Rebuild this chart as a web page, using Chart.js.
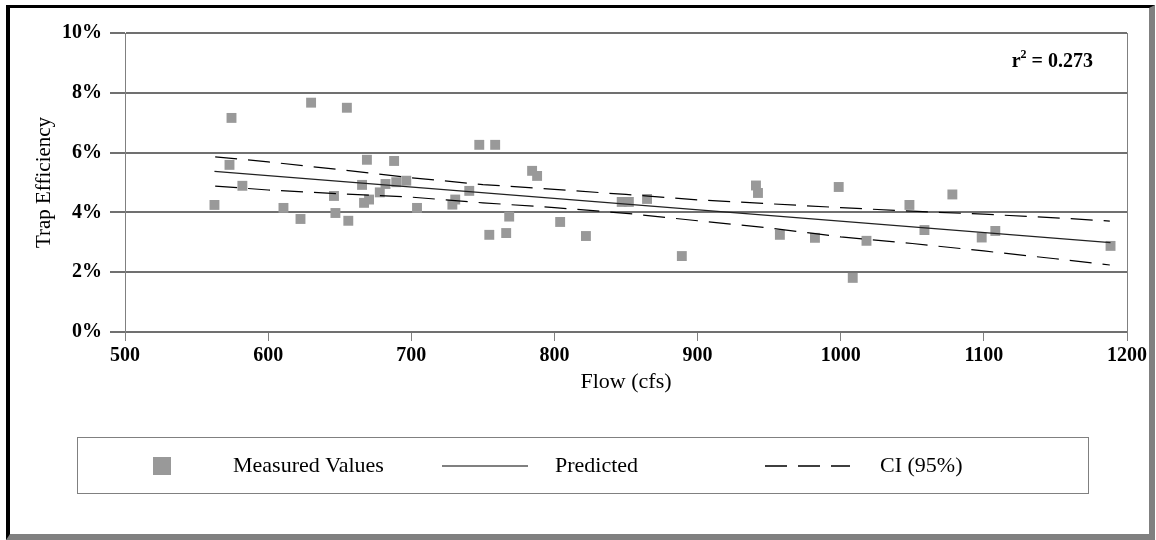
<!DOCTYPE html>
<html>
<head>
<meta charset="utf-8">
<script src="https://cdn.jsdelivr.net/npm/chart.js@4"></script>
<style>
  body { margin: 0; background: #fff; }
  #frame {
    position: absolute; left: 6px; top: 5px; width: 1149px; height: 535px;
    box-sizing: border-box;
    border-top: 3px solid #000; border-left: 4px solid #000;
    border-right: 6px solid #808080; border-bottom: 6px solid #808080;
  }
  #trapChart { position: absolute; left: 0; top: 0; }
</style>
</head>
<body>
<div id="frame"></div>
<canvas id="trapChart" width="1156" height="540"></canvas>
<script>
// measured values (flow in cfs, trap efficiency in %)
const flowCfs = [562.5, 573, 574.4, 582, 610.7, 622.6, 630, 646, 647, 655, 656, 665.6, 667, 669, 670.5, 678, 682, 688, 689.5, 696.5,
  704, 728.7, 730.7, 740.5, 747.5, 754.5, 758.6, 766.3, 768.4, 784.4, 787.9, 804, 822, 847, 852, 864.7, 889,
  940.8, 942.2, 957.5, 982, 998.6, 1008.4, 1018, 1048, 1058.5, 1078, 1098.5, 1108, 1188.5];
const trapEfficiency = [4.25, 5.59, 7.16, 4.89, 4.15, 3.78, 7.67, 4.55, 3.98, 7.50, 3.72, 4.92, 4.32, 5.76, 4.43, 4.67, 4.95, 5.72, 5.01, 5.06,
  4.15, 4.26, 4.43, 4.72, 6.26, 3.25, 6.26, 3.31, 3.86, 5.39, 5.22, 3.68, 3.21, 4.35, 4.35, 4.45, 2.54,
  4.90, 4.65, 3.25, 3.15, 4.85, 1.81, 3.05, 4.25, 3.41, 4.60, 3.16, 3.38, 2.88];

// regression line
const predictedFlow = [562.5, 1188.5];
const predictedEff = [5.37, 2.99];

// 95% confidence band
const ciFlow = [563, 600, 650, 700, 750, 800, 850, 900, 950, 1000, 1050, 1100, 1150, 1188];
const ciUpper = [5.86, 5.69, 5.43, 5.16, 4.93, 4.77, 4.60, 4.42, 4.29, 4.16, 4.04, 3.94, 3.82, 3.71];
const ciLower = [4.88, 4.75, 4.62, 4.51, 4.32, 4.16, 3.97, 3.72, 3.48, 3.18, 2.96, 2.71, 2.45, 2.24];

const rSquared = '0.273';

const serif = "'Liberation Serif', 'Times New Roman', serif";
Chart.defaults.font.family = serif;
Chart.defaults.color = '#000';

const toPoints = (xs, ys) => xs.map((x, i) => ({ x: x, y: ys[i] }));

const frameAndNotes = {
  id: 'frameAndNotes',
  beforeDatasetsDraw(chart) {
    const { ctx, chartArea } = chart;
    ctx.save();
    ctx.strokeStyle = '#808080';
    ctx.lineWidth = 1;
    ctx.beginPath();
    ctx.moveTo(Math.round(chartArea.right) + 0.5, chartArea.top);
    ctx.lineTo(Math.round(chartArea.right) + 0.5, chartArea.bottom);
    ctx.stroke();
    ctx.restore();
  },
  afterDraw(chart) {
    const ctx = chart.ctx;
    ctx.save();

    // r squared note
    ctx.fillStyle = '#000';
    ctx.textBaseline = 'alphabetic';
    ctx.font = 'bold 20px ' + serif;
    const tail = ' = ' + rSquared;
    const wr = ctx.measureText('r').width;
    const wt = ctx.measureText(tail).width;
    ctx.font = 'bold 12px ' + serif;
    const w2 = ctx.measureText('2').width;
    let x = 1093 - (wr + w2 + wt);
    ctx.font = 'bold 20px ' + serif;
    ctx.fillText('r', x, 67);
    ctx.font = 'bold 12px ' + serif;
    ctx.fillText('2', x + wr, 58);
    ctx.font = 'bold 20px ' + serif;
    ctx.fillText(tail, x + wr + w2, 67);

    // legend box
    ctx.strokeStyle = '#808080';
    ctx.lineWidth = 1;
    ctx.strokeRect(77.5, 437.5, 1011, 56);
    const cy = 466;
    const ds = chart.data.datasets;
    ctx.fillStyle = ds[0].backgroundColor;
    ctx.fillRect(153, cy - 9, 18, 18);

    ctx.strokeStyle = '#808080';
    ctx.lineWidth = 2;
    ctx.beginPath();
    ctx.moveTo(442, cy);
    ctx.lineTo(528, cy);
    ctx.stroke();

    ctx.strokeStyle = '#000';
    ctx.lineWidth = 1.3;
    ctx.setLineDash([22, 11]);
    ctx.beginPath();
    ctx.moveTo(765, cy);
    ctx.lineTo(850, cy);
    ctx.stroke();
    ctx.setLineDash([]);

    ctx.fillStyle = '#000';
    ctx.font = '22px ' + serif;
    ctx.textBaseline = 'middle';
    ctx.fillText(ds[0].label, 233, cy);
    ctx.fillText(ds[1].label, 555, cy);
    ctx.fillText(ds[2].label, 880, cy);
    ctx.restore();
  }
};

new Chart(document.getElementById('trapChart'), {
  type: 'scatter',
  data: {
    datasets: [
      {
        label: 'Measured Values',
        data: toPoints(flowCfs, trapEfficiency),
        backgroundColor: '#999999',
        borderColor: '#999999',
        borderWidth: 0,
        pointStyle: 'rect',
        pointRadius: 7,
        order: 2
      },
      {
        type: 'line',
        label: 'Predicted',
        data: toPoints(predictedFlow, predictedEff),
        borderColor: '#222',
        borderWidth: 1.2,
        pointRadius: 0,
        fill: false,
        order: 1
      },
      {
        type: 'line',
        label: 'CI (95%)',
        data: toPoints(ciFlow, ciUpper),
        borderColor: '#000',
        borderWidth: 1.2,
        borderDash: [22, 11],
        pointRadius: 0,
        fill: false,
        order: 1
      },
      {
        type: 'line',
        label: 'CI (95%) lower',
        data: toPoints(ciFlow, ciLower),
        borderColor: '#000',
        borderWidth: 1.2,
        borderDash: [22, 11],
        pointRadius: 0,
        fill: false,
        order: 1
      }
    ]
  },
  options: {
    responsive: false,
    animation: false,
    layout: { padding: { left: 0, right: 29, top: 33, bottom: 147 } },
    plugins: { legend: { display: false }, tooltip: { enabled: false } },
    scales: {
      x: {
        type: 'linear',
        min: 500,
        max: 1200,
        afterFit: (s) => { s.height = 61; },
        ticks: {
          stepSize: 100, padding: 5, color: '#000',
          font: { size: 20, weight: 'bold', lineHeight: 1 },
          callback: (v) => String(v)
        },
        grid: { drawOnChartArea: false, drawTicks: true, tickLength: 9, color: '#808080', lineWidth: 1 },
        border: { display: false },
        title: { display: true, text: 'Flow (cfs)', font: { size: 22, lineHeight: 1 }, padding: 0, color: '#000' }
      },
      y: {
        min: 0,
        max: 10,
        afterFit: (s) => { s.width = 125; },
        ticks: {
          stepSize: 2, padding: 8, color: '#000',
          font: { size: 20, weight: 'bold', lineHeight: 1 },
          callback: (v) => v + '%'
        },
        grid: { color: '#707070', lineWidth: 2, tickLength: 15 },
        border: { display: true, color: '#808080', width: 1 },
        title: { display: true, text: 'Trap Efficiency', font: { size: 21 }, padding: { top: 32, bottom: 0 }, color: '#000' }
      }
    }
  },
  plugins: [frameAndNotes]
});
</script>
</body>
</html>
